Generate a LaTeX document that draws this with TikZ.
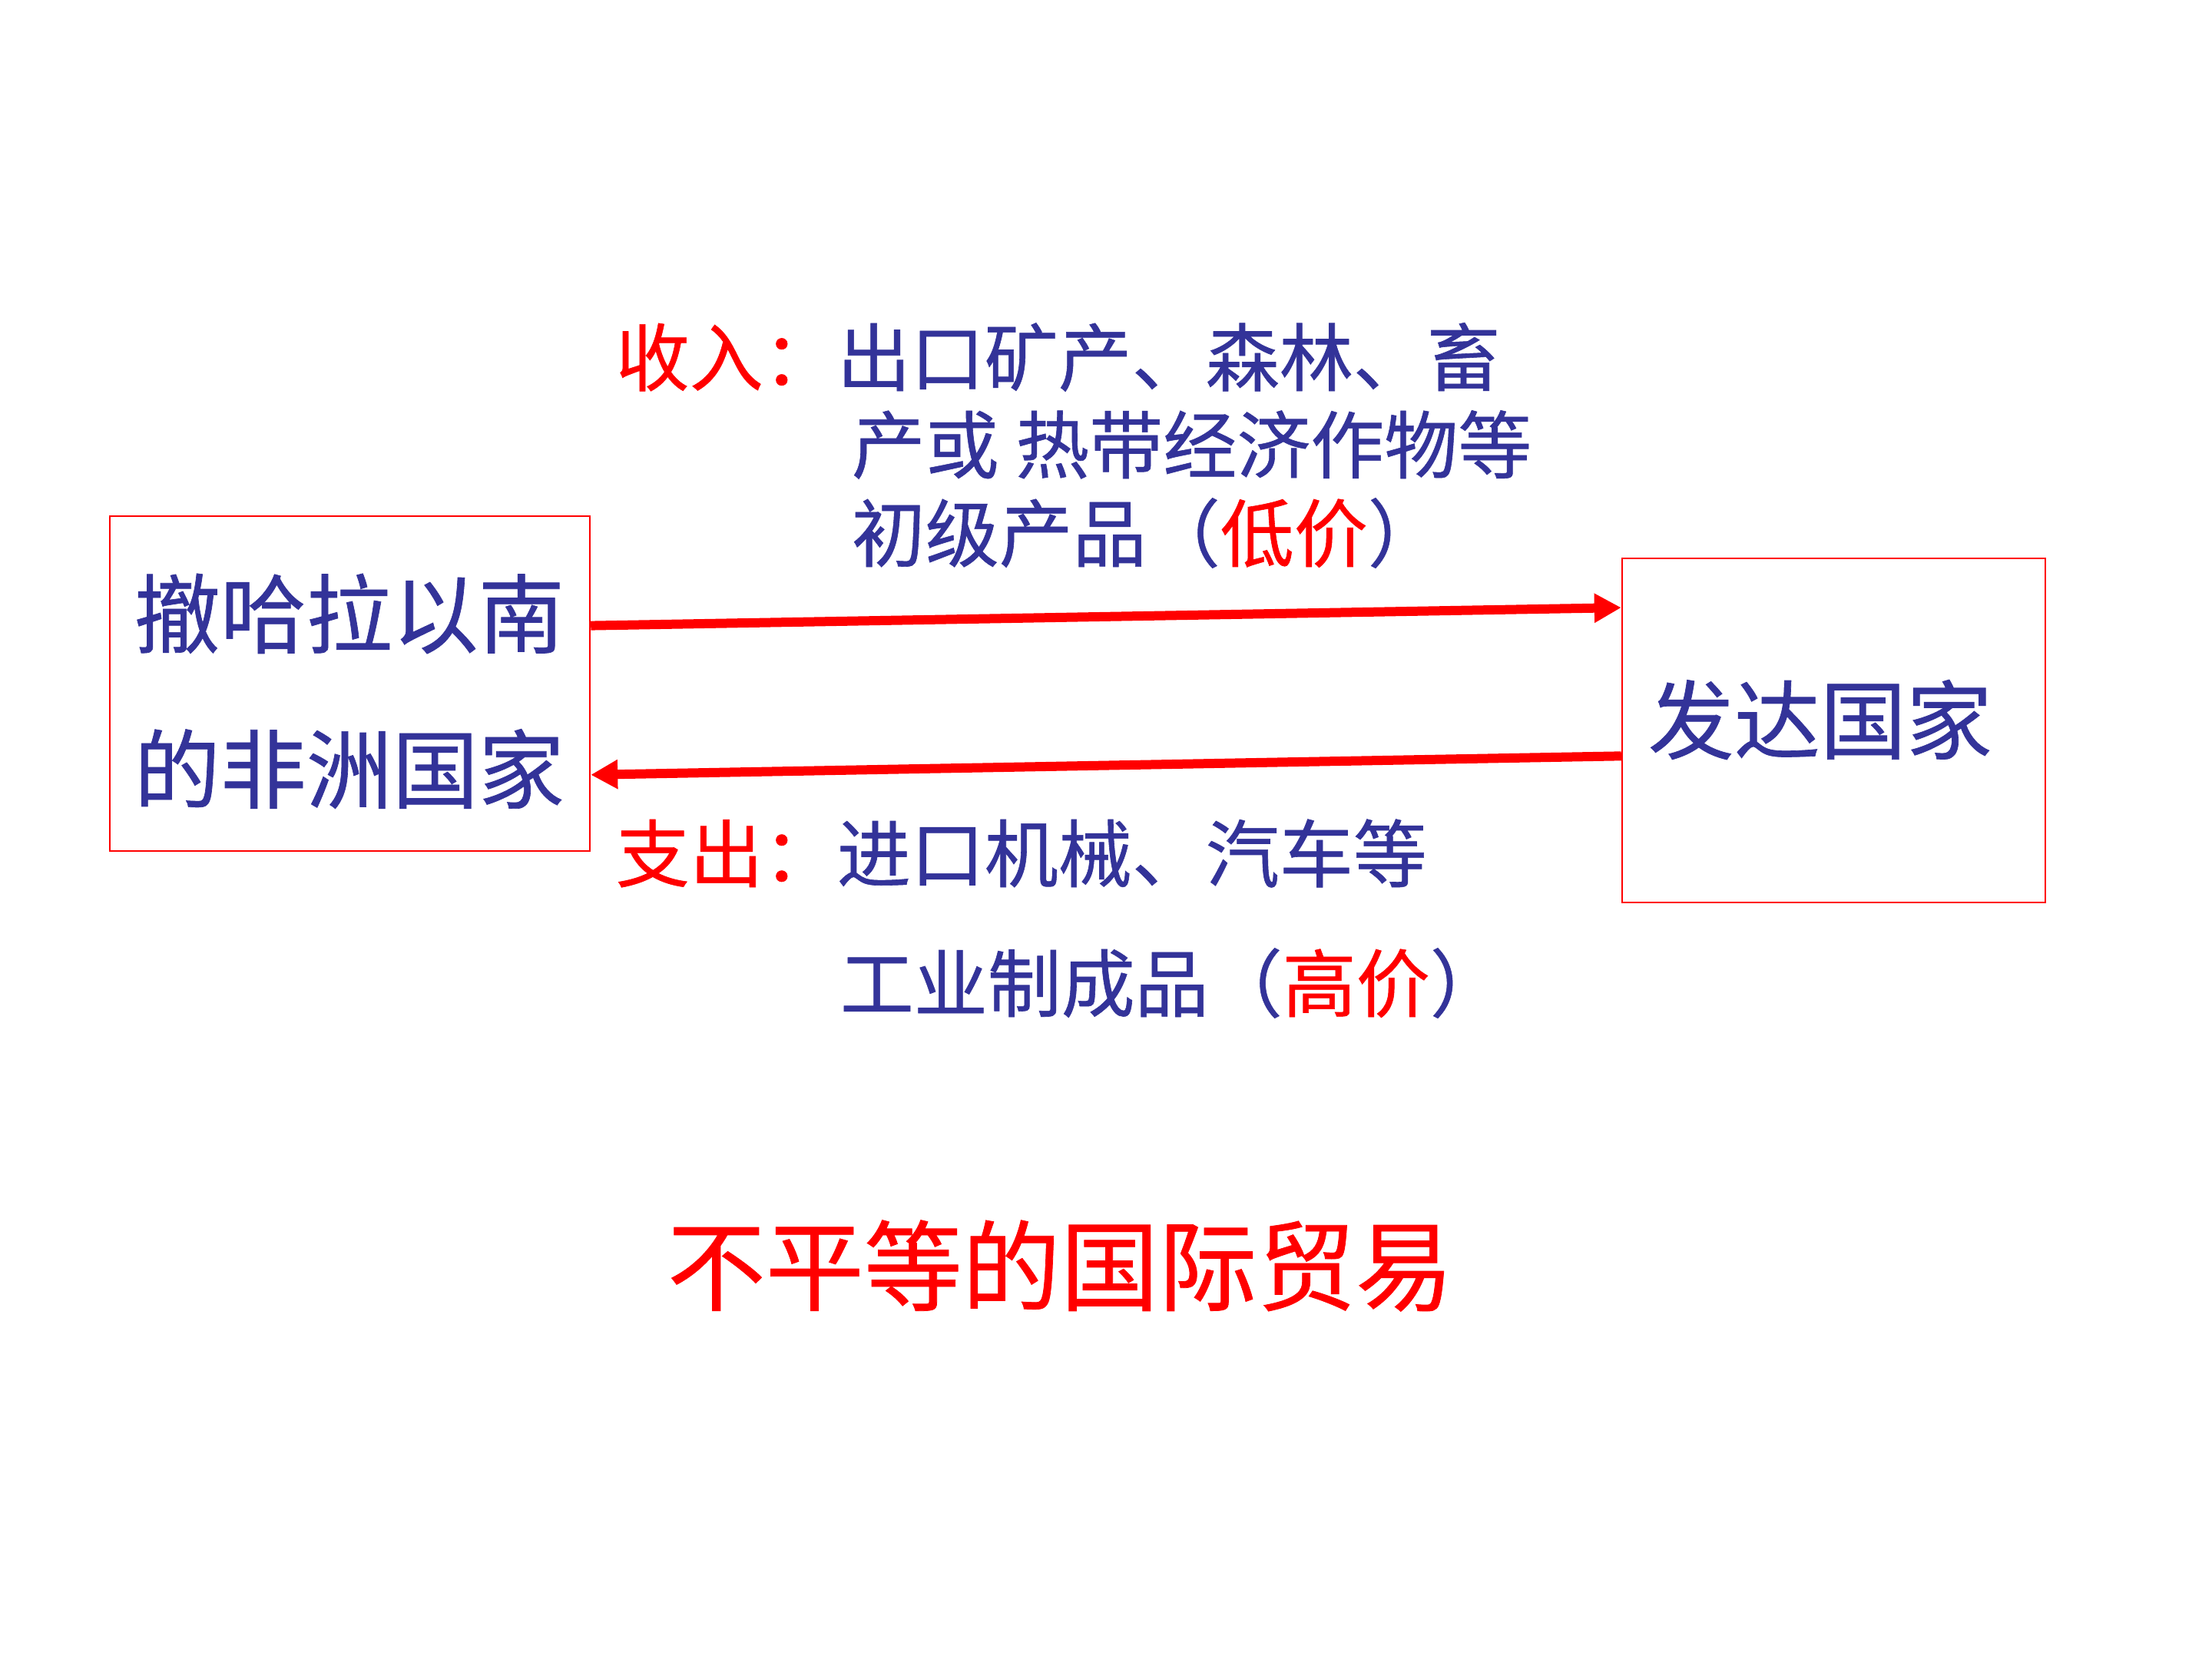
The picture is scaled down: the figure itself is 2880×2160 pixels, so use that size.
\documentclass[tikz,border=0pt]{standalone}
\usepackage{fontspec}
\newfontfamily\cjk{Noto Sans CJK SC}[FakeBold=0.6]
\usetikzlibrary{arrows.meta,calc}
\definecolor{tblue}{RGB}{51,51,153}
\definecolor{tred}{RGB}{255,0,0}
\begin{document}
\begin{tikzpicture}[x=0.25pt,y=-0.25pt,
  box/.style={draw=tred,line width=0.6pt,inner sep=0pt,rectangle},
  txt/.style={inner sep=0pt,anchor=west,text=tblue,font=\cjk\fontsize{24}{28}\selectfont},
  big/.style={txt,font=\cjk\fontsize{28}{32}\selectfont},
  ttl/.style={inner sep=0pt,anchor=west,text=tred,font=\cjk\fontsize{32}{36}\selectfont},
  flow/.style={draw=tred,line width=3pt,-{Triangle[length=8.75pt,width=9pt]}}]
\useasboundingbox (0,0) rectangle (2880,2160);
\fill[white] (0,0) rectangle (2880,2160);
\node[box,minimum width=156.25pt,minimum height=109pt] (L) at (455.5,890) {};
\node[box,minimum width=137.75pt,minimum height=112pt] (R) at (2387.5,951) {};
\node[big] (l1) at (174,799) {撤哈拉以南};
\node[big] (l2) at (174,1001) {的非洲国家};
\node[big] (r1) at (2145,937) {发达国家};
\node[txt] (i1) at (801,465) {\textcolor{tred}{收入：}出口矿产、森林、畜};
\node[txt] (i2) at (1108,579) {产或 热带经济作物等};
\node[txt] (i3) at (1108,694) {初级产品（\textcolor{tred}{低价}）};
\node[txt] (o1) at (801,1111) {\textcolor{tred}{支出：}进口机械、汽车等};
\node[txt] (o2) at (1093,1280) {工业制成品（\textcolor{tred}{高价}）};
\node[ttl] (t) at (868,1648) {不平等的国际贸易};
\draw[flow] ($(L.north east)!0.328!(L.south east)$) -- ($(R.north west)!0.145!(R.south west)$);
\draw[flow] ($(R.north west)!0.574!(R.south west)$) -- ($(L.north east)!0.771!(L.south east)$);
\end{tikzpicture}
\end{document}
